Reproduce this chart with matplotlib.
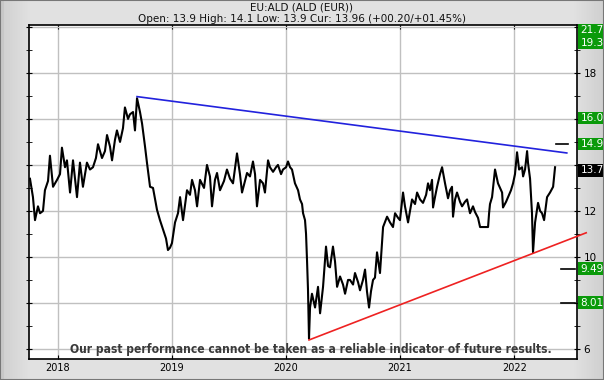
import numpy as np
import matplotlib
matplotlib.use("Agg")
import matplotlib.pyplot as plt
from matplotlib.patches import Rectangle
import matplotlib.transforms as mtransforms

# price series (decimal years, EUR)
years = [2017.757, 2017.783, 2017.801, 2017.827, 2017.845, 2017.871, 2017.888, 2017.915, 2017.932, 2017.959,
         2017.994, 2018.020, 2018.037, 2018.064, 2018.081, 2018.108, 2018.134, 2018.169, 2018.195, 2018.221,
         2018.256, 2018.283, 2018.309, 2018.335, 2018.353, 2018.388, 2018.414, 2018.432, 2018.458, 2018.476,
         2018.502, 2018.519, 2018.546, 2018.572, 2018.589, 2018.616, 2018.633, 2018.660, 2018.677, 2018.695,
         2018.721, 2018.739, 2018.765, 2018.782, 2018.809, 2018.835, 2018.870, 2018.896, 2018.923, 2018.949,
         2018.966, 2018.984, 2019.001, 2019.028, 2019.054, 2019.072, 2019.098, 2019.133, 2019.159, 2019.177,
         2019.203, 2019.221, 2019.247, 2019.282, 2019.308, 2019.334, 2019.352, 2019.378, 2019.396, 2019.422,
         2019.457, 2019.483, 2019.510, 2019.536, 2019.571, 2019.597, 2019.615, 2019.641, 2019.659, 2019.685,
         2019.711, 2019.729, 2019.746, 2019.773, 2019.799, 2019.816, 2019.843, 2019.860, 2019.887, 2019.913,
         2019.930, 2019.957, 2019.974, 2020.001, 2020.018, 2020.036, 2020.053, 2020.079, 2020.106, 2020.123,
         2020.141, 2020.150, 2020.167, 2020.176, 2020.185, 2020.193, 2020.202, 2020.211, 2020.228, 2020.255,
         2020.281, 2020.299, 2020.325, 2020.351, 2020.369, 2020.386, 2020.412, 2020.430, 2020.448, 2020.474,
         2020.500, 2020.518, 2020.544, 2020.561, 2020.588, 2020.605, 2020.632, 2020.649, 2020.675, 2020.693,
         2020.710, 2020.728, 2020.745, 2020.763, 2020.780, 2020.798, 2020.824, 2020.851, 2020.886, 2020.912,
         2020.938, 2020.956, 2020.982, 2020.999, 2021.026, 2021.043, 2021.070, 2021.087, 2021.105, 2021.131,
         2021.149, 2021.175, 2021.201, 2021.228, 2021.245, 2021.262, 2021.280, 2021.289, 2021.306, 2021.324,
         2021.350, 2021.368, 2021.394, 2021.420, 2021.438, 2021.455, 2021.464, 2021.482, 2021.499, 2021.525,
         2021.543, 2021.569, 2021.587, 2021.613, 2021.639, 2021.657, 2021.683, 2021.701, 2021.736, 2021.771,
         2021.780, 2021.788, 2021.806, 2021.832, 2021.858, 2021.876, 2021.894, 2021.902, 2021.929, 2021.946,
         2021.972, 2021.990, 2022.007, 2022.025, 2022.043, 2022.069, 2022.078, 2022.095, 2022.113, 2022.121,
         2022.139, 2022.156, 2022.165, 2022.183, 2022.209, 2022.227, 2022.244, 2022.262, 2022.288, 2022.314,
         2022.341, 2022.358]
prices = [13.4, 12.6, 11.6, 12.2, 11.9, 12.0, 12.9, 13.3, 14.4, 13.05,
          13.35, 13.6, 14.75, 13.9, 14.2, 12.8, 14.2, 12.6, 14.1, 13.05,
          14.1, 13.8, 13.9, 14.3, 14.9, 14.3, 14.6, 15.3, 14.8, 14.2,
          15.1, 15.5, 15.0, 15.6, 16.5, 16.0, 16.2, 16.3, 15.5, 16.9,
          16.3, 15.8, 14.8, 14.1, 13.05, 13.0, 12.05, 11.6, 11.2, 10.8,
          10.3, 10.4, 10.6, 11.5, 11.9, 12.6, 11.6, 12.9, 12.7, 13.35,
          12.9, 12.2, 13.35, 13.0, 14.0, 13.5, 12.2, 13.35, 13.65, 12.9,
          13.3, 13.8, 13.4, 13.2, 14.5, 13.6, 12.8, 13.3, 13.65, 13.5,
          14.15, 13.6, 12.2, 13.35, 13.2, 12.8, 14.2, 13.9, 13.7, 13.9,
          14.0, 13.6, 13.8, 13.9, 14.15, 13.9, 13.8, 13.2, 12.9, 12.5,
          12.3, 11.9, 11.6, 11.0, 9.8, 8.6, 6.45, 7.8, 8.4, 7.8,
          8.7, 7.55, 8.7, 10.45, 9.6, 9.55, 10.45, 9.8, 8.7, 9.15,
          8.8, 8.4, 9.0, 9.0, 8.8, 9.3, 8.9, 8.55, 9.0, 9.45,
          8.5, 7.8, 8.5, 9.0, 9.1, 10.2, 9.3, 11.3, 11.75, 11.5,
          11.3, 11.9, 11.7, 11.6, 12.8, 12.2, 11.5, 12.0, 12.5, 12.3,
          12.8, 12.5, 12.35, 12.7, 13.2, 12.9, 13.35, 12.15, 12.6, 13.05,
          13.6, 13.9, 13.2, 12.55, 12.9, 13.05, 11.75, 12.5, 12.8, 12.4,
          12.2, 12.4, 12.5, 11.9, 12.2, 11.95, 11.7, 11.3, 11.3, 11.3,
          11.9, 12.3, 12.6, 13.8, 13.2, 13.0, 12.8, 12.15, 12.4, 12.6,
          12.9, 13.2, 13.6, 14.55, 13.8, 13.9, 13.5, 13.8, 14.6, 14.1,
          13.4, 11.9, 10.2, 11.5, 12.35, 12.0, 11.9, 11.6, 12.6, 12.8,
          13.05, 13.9]

# trend lines
blue_x = [2018.695, 2022.461]
blue_y = [16.97, 14.52]
red_x = [2020.202, 2022.631]
red_y = [6.39, 11.05]

# target levels on the right
levels = [21.79, 19.30, 16.04, 14.91, 13.76, 9.496, 8.01]
level_text = ["21.79", "19.30", "16.04", "14.91", "13.76", "9.496", "8.01"]
level_color = ["#0a9a0a", "#0a9a0a", "#0a9a0a", "#0a9a0a", "black", "#0a9a0a", "#0a9a0a"]
marker_levels = [14.91, 9.496, 8.01]

year_ticks = [2018, 2019, 2020, 2021, 2022]
price_ticks = [6, 8, 10, 12, 14, 16, 18, 20]
price_labels = ["6", "", "10", "12", "", "", "18", ""]   # others sit under the level boxes

title1 = "EU:ALD (ALD (EUR))"
title2 = "Open: 13.9 High: 14.1 Low: 13.9 Cur: 13.96 (+00.20/+01.45%)"
disclaimer = "Our past performance cannot be taken as a reliable indicator of future results."

W, H = 604, 380
fig = plt.figure(figsize=(W / 100, H / 100), dpi=100)

# gray panel background with soft edges
bg = np.ones((H, W)) * 0.88
xs = np.arange(W)
edge = np.clip(1 - np.minimum(xs, W - 1 - xs) / 30.0, 0, 1)
bg = bg - 0.07 * edge[None, :]
bg[:, :4] = 0.78
bgax = fig.add_axes([0, 0, 1, 1], zorder=-10)
bgax.imshow(bg, cmap="gray", vmin=0, vmax=1, aspect="auto", interpolation="bilinear")
bgax.axis("off")
fig.patches.append(Rectangle((0, 0), 1, 1, transform=fig.transFigure, fill=False,
                             edgecolor="#777777", lw=1.5))

ax = fig.add_axes([29.3 / W, 1 - 359.3 / H, 548 / W, 334 / H])
ax.set_facecolor("white")
ax.set_xlim(2017.751, 2022.553)
ax.set_ylim(5.55, 20.07)

ax.grid(True, color="#c0c0c0", lw=1)
ax.set_axisbelow(True)
ax.set_xticks(year_ticks)
ax.set_xticklabels([str(y) for y in year_ticks], fontsize=7)
ax.set_yticks(price_ticks)
ax.set_yticks(np.arange(6, 21, 1), minor=True)
ax.yaxis.tick_right()
ax.set_yticklabels(price_labels, fontsize=7.5)
ax.tick_params(axis="y", which="both", right=True, left=True, direction="inout", length=5, pad=2)
ax.tick_params(axis="y", which="minor", length=4)
ax.tick_params(axis="x", top=True, direction="in", length=3, pad=3)
for s in ax.spines.values():
    s.set_linewidth(1.2)
    s.set_color("black")

ax.plot(years, prices, color="black", lw=1.5, zorder=3)
ax.plot(blue_x, blue_y, color="#2222dd", lw=1.2, zorder=4)
ax.plot(red_x, red_y, color="#ee2222", lw=1.2, zorder=4, clip_on=False)

for lv in marker_levels:
    x0 = 2022.367 if lv > 14 else 2022.411
    x1 = 2022.472 if lv > 14 else 2022.533
    ax.plot([x0, x1], [lv, lv], color="black", lw=1.2, zorder=4)

# level boxes on the right edge
trans = mtransforms.blended_transform_factory(ax.transAxes, ax.transData)
box_h = 0.55
top = ax.get_ylim()[1]
for i, lv in enumerate(levels):
    pos = lv
    if lv > top:
        pos = levels[i + 1] + box_h
    r = Rectangle((1.002, pos - box_h / 2), 0.06, box_h, transform=trans,
                  facecolor=level_color[i], edgecolor="none", clip_on=False, zorder=10)
    ax.add_patch(r)
    ax.text(1.006, pos, level_text[i], transform=trans, color="white", fontsize=7.5,
            va="center", ha="left", clip_on=False, zorder=11)

fig.text(0.5, 1 - 7.5 / H, title1, ha="center", va="center", fontsize=7.5, color="#111111")
fig.text(0.5, 1 - 19 / H, title2, ha="center", va="center", fontsize=7.5, color="#111111")

note = fig.text(311 / W, 1 - 349 / H, disclaimer, ha="center", va="center", fontsize=10.5,
                fontweight="bold", color="#3a3a3a", fontstretch="condensed",
                family=["DejaVu Sans"], zorder=20)
# shrink the note until it spans the same width as in the chart
fig.canvas.draw()
w = note.get_window_extent().width
if w > 484:
    note.set_fontsize(10.5 * 484 / w)

fig.savefig("out.png", dpi=100)
